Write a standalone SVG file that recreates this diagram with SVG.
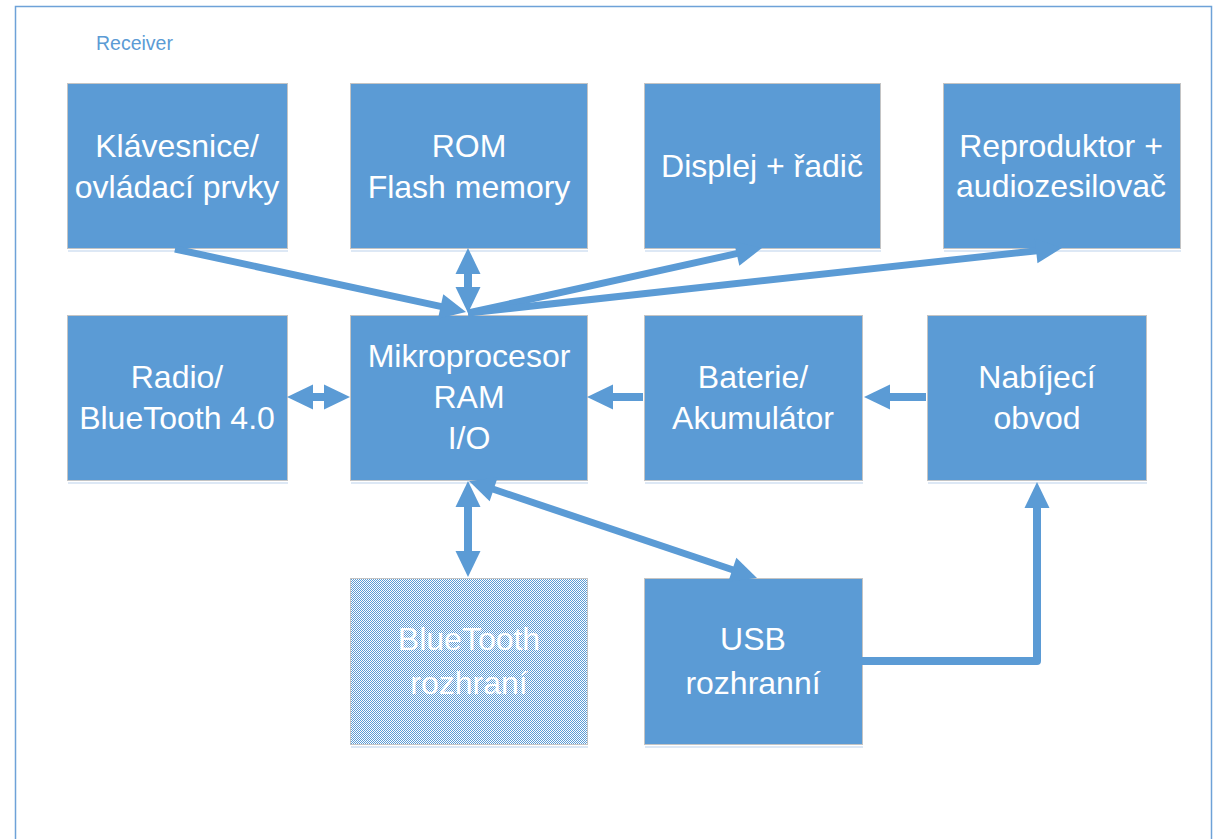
<svg xmlns="http://www.w3.org/2000/svg" width="1213" height="839" viewBox="0 0 1213 839">
<style>
.box{fill:#5b9bd5;stroke:#c4c4c4;stroke-width:1}
.sh{fill:#dde8f5}
.t{font-family:"Liberation Sans",Arial,sans-serif;font-size:32px;fill:#ffffff;text-anchor:middle}
.c{fill:none;stroke:#5b9bd5;stroke-width:8}
.d{fill:none;stroke:#5b9bd5;stroke-width:7}
</style>
<defs>
<marker id="ah" markerUnits="userSpaceOnUse" markerWidth="30" markerHeight="30" refX="0" refY="0" orient="auto-start-reverse" overflow="visible">
<path d="M-1,-12.5 L25,0 L-1,12.5 Z" fill="#5b9bd5"/>
</marker>
<pattern id="chk" patternUnits="userSpaceOnUse" width="2" height="2">
<rect width="2" height="2" fill="#ffffff"/>
<rect width="1" height="1" fill="#5b9bd5"/>
<rect x="1" y="1" width="1" height="1" fill="#5b9bd5"/>
</pattern>
</defs>
<rect width="1213" height="839" fill="#ffffff"/>
<rect x="15.5" y="6.5" width="1196" height="900" fill="none" stroke="#6ea2d8" stroke-width="1.5"/>
<text x="96" y="50" font-family="Liberation Sans,Arial,sans-serif" font-size="19.5" fill="#5b9bd5">Receiver</text>

<g id="n-klavesnice">
<rect class="sh" x="68" y="250" width="220" height="2"/>
<rect class="box" x="67.5" y="83.5" width="220" height="165"/>
<text class="t" x="177" y="157">Klávesnice/</text>
<text class="t" x="177" y="198">ovládací prvky</text>
</g>
<g id="n-rom">
<rect class="sh" x="351" y="250" width="237" height="2"/>
<rect class="box" x="350.5" y="83.5" width="237" height="165"/>
<text class="t" x="469" y="157">ROM</text>
<text class="t" x="469" y="198">Flash memory</text>
</g>
<g id="n-displej">
<rect class="sh" x="645" y="250" width="236" height="2"/>
<rect class="box" x="644.5" y="83.5" width="236" height="165"/>
<text class="t" x="762" y="177">Displej + řadič</text>
</g>
<g id="n-reproduktor">
<rect class="sh" x="944" y="250" width="237" height="2"/>
<rect class="box" x="943.5" y="83.5" width="237" height="165"/>
<text class="t" x="1061" y="157">Reproduktor +</text>
<text class="t" x="1061" y="197">audiozesilovač</text>
</g>
<g id="n-radio">
<rect class="sh" x="68" y="482" width="220" height="2"/>
<rect class="box" x="67.5" y="315.5" width="220" height="165"/>
<text class="t" x="177" y="388">Radio/</text>
<text class="t" x="177" y="429">BlueTooth 4.0</text>
</g>
<g id="n-mikro">
<rect class="sh" x="351" y="482" width="237" height="2"/>
<rect class="box" x="350.5" y="315.5" width="237" height="165"/>
<text class="t" x="469" y="367">Mikroprocesor</text>
<text class="t" x="469" y="408">RAM</text>
<text class="t" x="469" y="449">I/O</text>
</g>
<g id="n-baterie">
<rect class="sh" x="645" y="482" width="218" height="2"/>
<rect class="box" x="644.5" y="315.5" width="218" height="165"/>
<text class="t" x="753" y="388">Baterie/</text>
<text class="t" x="753" y="429">Akumulátor</text>
</g>
<g id="n-nabijeci">
<rect class="sh" x="928" y="482" width="219" height="2"/>
<rect class="box" x="927.5" y="315.5" width="219" height="165"/>
<text class="t" x="1037" y="388">Nabíjecí</text>
<text class="t" x="1037" y="429">obvod</text>
</g>
<g id="n-bluetooth">
<rect class="sh" x="351" y="746" width="237" height="2"/>
<rect x="350.5" y="578.5" width="237" height="166" fill="url(#chk)" stroke="#c4c4c4" stroke-width="1"/>
<text class="t" x="469" y="650">BlueTooth</text>
<text class="t" x="469" y="694">rozhraní</text>
</g>
<g id="n-usb">
<rect class="sh" x="645" y="746" width="218" height="2"/>
<rect class="box" x="644.5" y="578.5" width="218" height="166"/>
<text class="t" x="753" y="650">USB</text>
<text class="t" x="753" y="694">rozhranní</text>
</g>

<g id="connectors">
<line class="d" x1="175" y1="249" x2="441.6" y2="306.7" marker-end="url(#ah)"/>
<line class="c" x1="468" y1="273" x2="468" y2="288" marker-start="url(#ah)" marker-end="url(#ah)"/>
<line class="d" x1="468" y1="313" x2="737.6" y2="253.4" marker-end="url(#ah)"/>
<line class="d" x1="468" y1="313" x2="1037.1" y2="250.7" marker-end="url(#ah)"/>
<line class="c" x1="312" y1="397" x2="325" y2="397" marker-start="url(#ah)" marker-end="url(#ah)"/>
<line class="c" x1="643" y1="397" x2="612" y2="397" marker-end="url(#ah)"/>
<line class="c" x1="926" y1="397" x2="889" y2="397" marker-end="url(#ah)"/>
<line class="c" x1="468" y1="506" x2="468" y2="552" marker-start="url(#ah)" marker-end="url(#ah)"/>
<line class="d" x1="492.7" y1="489" x2="733.3" y2="570" marker-start="url(#ah)" marker-end="url(#ah)"/>
<path class="c" d="M862,661 H1037 V507" stroke-linejoin="round" marker-end="url(#ah)"/>
</g>
</svg>
